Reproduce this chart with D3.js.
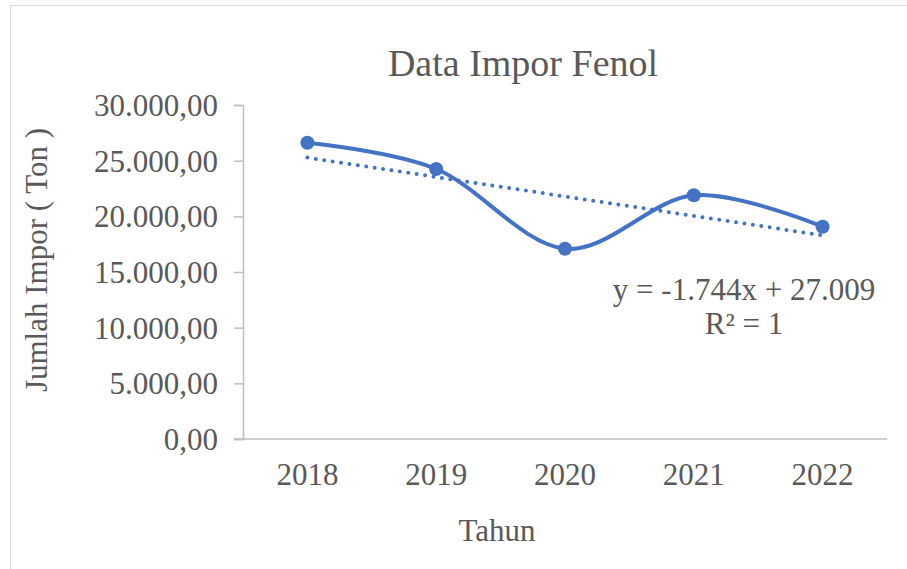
<!DOCTYPE html>
<html>
<head>
<meta charset="utf-8">
<script src="https://cdn.jsdelivr.net/npm/d3@7"></script>
<style>
  body { margin: 0; background: #fff; }
  svg text { font-family: "Liberation Serif", Tinos, "Times New Roman", Times, "DejaVu Serif", serif; fill: #595959; }
</style>
</head>
<body>
<div id="chart-area"></div>
<script>
// data
var years = ["2018", "2019", "2020", "2021", "2022"];
var imports = [26614, 24251, 17093, 21890, 19069];
var yTicks = [0, 5000, 10000, 15000, 20000, 25000, 30000];
var trendText = ["y = -1.744x + 27.009", "R² = 1"];

var W = 907, H = 569;
var serif = "'Liberation Serif', Tinos, 'Times New Roman', Times, 'DejaVu Serif', serif";
var margin = {left: 243, top: 105, right: 20, bottom: 130};
var width = 887 - margin.left,
    height = 439 - margin.top;

var svg = d3.select("#chart-area")
    .append("svg")
        .attr("width", W)
        .attr("height", H)
        .attr("font-family", serif);

// chart border
svg.append("rect")
    .attr("x", 10.5).attr("y", 5.5)
    .attr("width", 910).attr("height", 580)
    .attr("fill", "none")
    .attr("stroke", "#d9d9d9");

var g = svg.append("g")
    .attr("transform", "translate(" + margin.left + ", " + margin.top + ")");

var x = d3.scaleBand()
    .domain(years)
    .range([0, width]);

var y = d3.scaleLinear()
    .domain([0, 30000])
    .range([height, 0]);

var idLocale = d3.formatLocale({decimal: ",", thousands: ".", grouping: [3], currency: ["Rp", ""]});
var fmt = idLocale.format(",.2f");

// y axis
var yAxis = d3.axisLeft(y)
    .tickValues(yTicks)
    .tickFormat(fmt)
    .tickSize(9)
    .tickPadding(16);
var yAxisGroup = g.append("g").call(yAxis);
yAxisGroup.attr("font-family", serif);
yAxisGroup.select(".domain").attr("stroke", "#bfbfbf").attr("stroke-width", 1.5);
yAxisGroup.selectAll(".tick line").attr("stroke", "#bfbfbf").attr("stroke-width", 1.5);
yAxisGroup.selectAll(".tick text")
    .attr("font-size", 31)
    .attr("fill", "#595959")
    .attr("dy", "0.34em");

// x axis
var xAxis = d3.axisBottom(x).tickSize(0).tickPadding(24);
var xAxisGroup = g.append("g")
    .attr("transform", "translate(0, " + height + ")")
    .call(xAxis);
xAxisGroup.attr("font-family", serif);
xAxisGroup.select(".domain").remove();
xAxisGroup.append("line")
    .attr("x1", -9).attr("x2", width)
    .attr("stroke", "#bfbfbf").attr("stroke-width", 1.5);
xAxisGroup.selectAll(".tick text")
    .attr("font-size", 31)
    .attr("fill", "#595959");

// smoothed series line
var cx = function(d, i) { return x(years[i]) + x.bandwidth() / 2; };
var line = d3.line()
    .x(cx)
    .y(function(d) { return y(d); })
    .curve(d3.curveCatmullRom.alpha(0));

g.append("path")
    .datum(imports)
    .attr("fill", "none")
    .attr("stroke", "#4472c4")
    .attr("stroke-width", 4)
    .attr("d", line);

// linear trendline (least squares on index 1..n)
var n = imports.length;
var xs = imports.map(function(d, i) { return i + 1; });
var mx = d3.mean(xs), my = d3.mean(imports);
var slope = d3.sum(xs, function(v, i) { return (v - mx) * (imports[i] - my); }) /
            d3.sum(xs, function(v) { return (v - mx) * (v - mx); });
var intercept = my - slope * mx;
var trend = xs.map(function(v) { return intercept + slope * v; });

g.append("path")
    .datum([trend[0], trend[n - 1]])
    .attr("fill", "none")
    .attr("stroke", "#4472c4")
    .attr("stroke-width", 4)
    .attr("stroke-linecap", "round")
    .attr("stroke-dasharray", "0 8.5")
    .attr("d", d3.line()
        .x(function(d, i) { return i === 0 ? cx(null, 0) : cx(null, n - 1); })
        .y(function(d) { return y(d); }));

// markers
g.selectAll("circle")
    .data(imports)
    .enter()
    .append("circle")
        .attr("cx", cx)
        .attr("cy", function(d) { return y(d); })
        .attr("r", 7)
        .attr("fill", "#4472c4");

// title
svg.append("text")
    .attr("x", 523)
    .attr("y", 76)
    .attr("text-anchor", "middle")
    .attr("font-size", 38)
    .text("Data Impor Fenol");

// axis titles
svg.append("text")
    .attr("x", 497)
    .attr("y", 541)
    .attr("text-anchor", "middle")
    .attr("font-size", 31)
    .text("Tahun");

svg.append("text")
    .attr("transform", "translate(47, 260) rotate(-90)")
    .attr("text-anchor", "middle")
    .attr("font-size", 31)
    .text("Jumlah Impor ( Ton )");

// trendline equation
svg.selectAll(".eq")
    .data(trendText)
    .enter()
    .append("text")
        .attr("class", "eq")
        .attr("x", 744)
        .attr("y", function(d, i) { return 300 + i * 34; })
        .attr("text-anchor", "middle")
        .attr("font-size", 31)
        .text(function(d) { return d; });
</script>
</body>
</html>
